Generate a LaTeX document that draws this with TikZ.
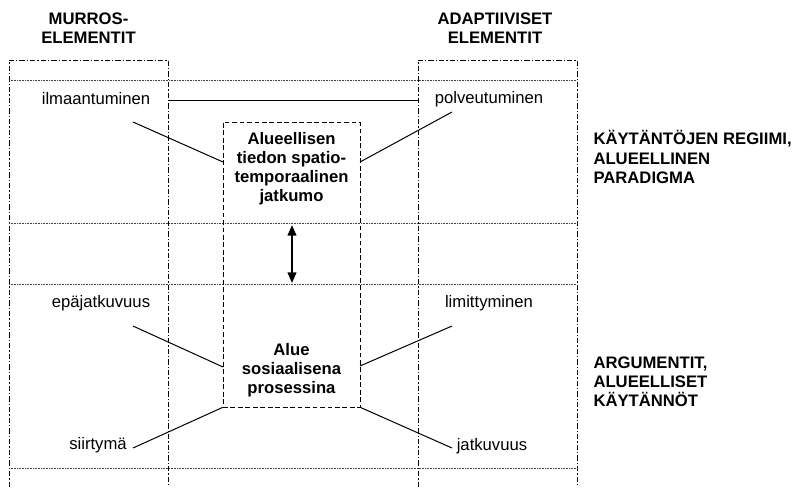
\documentclass[tikz,border=0pt]{standalone}
\usepackage{fontspec}
\setmainfont{Liberation Sans}
\usetikzlibrary{arrows.meta}

\tikzset{every picture/.style={line width=0.75pt}}
\tikzset{
	column/.style={line width=0.6pt, dash pattern=on 4pt off 1.6pt on 0.8pt off 1.6pt},
	band/.style={line width=0.45pt, black!75, dash pattern=on 0.6pt off 0.6pt},
	core/.style={draw, line width=0.6pt, dash pattern=on 3.6pt off 2pt, inner sep=0pt,
		minimum width=102.75pt, minimum height=213.75pt},
	term/.style={font=\fontsize{12.5}{14.3}\selectfont, inner sep=0pt},
	heading/.style={font=\fontsize{12.5}{14.3}\selectfont\bfseries, align=center, inner sep=0pt},
	sidehead/.style={heading, align=left, anchor=west},
	link/.style={line width=0.75pt}}

\begin{document}
\begin{tikzpicture}[x=0.75pt,y=0.75pt,yscale=-1,xscale=1]
	\useasboundingbox (0,0) rectangle (793,487);

	%Shape: Columns
	\draw [column] (9,487) -- (9,60) -- (168,60) -- (168,487) ;
	\draw [column] (418,487) -- (418,60) -- (577,60) -- (577,487) ;
	%Straight Lines: bands
	\draw [band] (9,80) -- (577,80) ;
	\draw [band] (9,223) -- (577,223) ;
	\draw [band] (9,284) -- (577,284) ;
	\draw [band] (9,468) -- (577,468) ;

	%Shape: central box
	\node [core] (core) at (291.5,264.5) {};

	% Text Node
	\node [heading] (murros) at (88.5,28) {MURROS-\\ELEMENTIT};
	\node [heading] (adapt) at (495,28) {ADAPTIIVISET\\ELEMENTIT};
	\node [sidehead] (regiimi) at (593,157) {KÄYTÄNTÖJEN REGIIMI,\\ALUEELLINEN\\PARADIGMA};
	\node [sidehead] (argum) at (593,382) {ARGUMENTIT,\\ALUEELLISET\\KÄYTÄNNÖT};
	\node [heading] (jatkumo) at (291.5,169) {Alueellisen\\tiedon spatio-\\temporaalinen\\jatkumo};
	\node [heading] (prosessi) at (291.5,370) {Alue\\sosiaalisena\\prosessina};

	\node [term] (ilmaan) at (96,99) {ilmaantuminen};
	\node [term] (polveu) at (489,99) {polveutuminen};
	\node [term] (epajat) at (101,303) {epäjatkuvuus};
	\node [term] (limitt) at (489,303) {limittyminen};
	\node [term] (siirty) at (98,445) {siirtymä};
	\node [term] (jatkuv) at (492,446) {jatkuvuus};

	% connector ends
	\coordinate (ilmaan-r) at (168,100);
	\coordinate (polveu-l) at (418,100);
	\coordinate (ilmaan-e) at (133,122);
	\coordinate (polveu-e) at (452,112);
	\coordinate (epajat-e) at (133,326);
	\coordinate (limitt-e) at (452,326);
	\coordinate (siirty-e) at (133,448);
	\coordinate (jatkuv-e) at (452,448);
	\coordinate (core-a) at (223,162);
	\coordinate (core-b) at (360,162);
	\coordinate (core-c) at (223,367);
	\coordinate (core-d) at (360,366);
	\coordinate (up) at (292,225);
	\coordinate (down) at (292,283);

	%Straight Lines
	\draw [link] (ilmaan-r) -- (polveu-l) ;
	\draw [link] (ilmaan-e) -- (core-a) ;
	\draw [link] (polveu-e) -- (core-b) ;
	\draw [link] (epajat-e) -- (core-c) ;
	\draw [link] (limitt-e) -- (core-d) ;
	\draw [link] (siirty-e) -- (core.south west) ;
	\draw [link] (jatkuv-e) -- (core.south east) ;
	%Straight Lines: arrow
	\draw [line width=1.5pt, {Triangle[length=8pt,width=6.5pt]}-{Triangle[length=8pt,width=6.5pt]}] (up) -- (down) ;

\end{tikzpicture}
\end{document}
